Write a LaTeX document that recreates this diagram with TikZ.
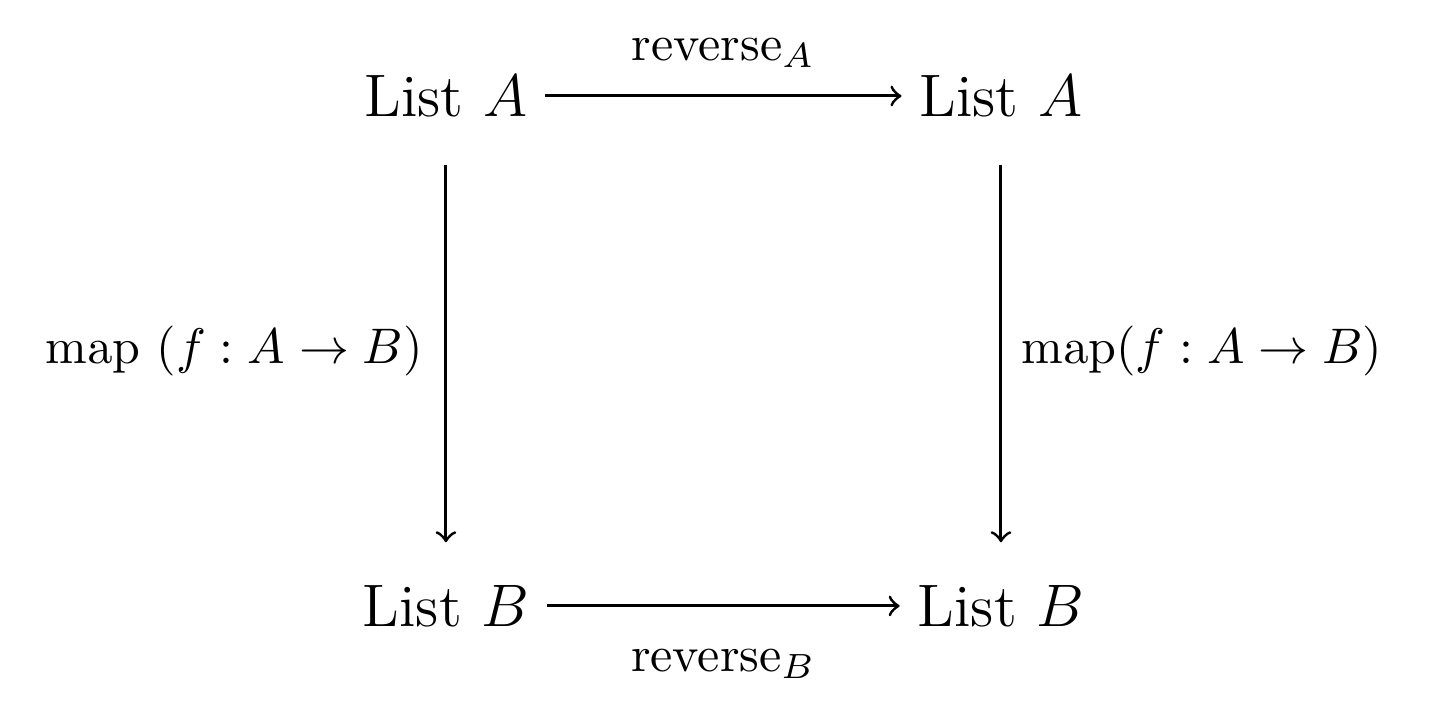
\documentclass[tikz,border=0pt]{standalone}
\usepackage{amsmath}
\usepackage{tikz}
\newcommand\lst[1]{\text{List }#1}
\newcommand\rev[1]{\text{reverse}_{#1}}

\begin{document}
\begin{tikzpicture}[semithick, obj/.style={font=\large, text height=8.2pt, text depth=0pt}]
        \useasboundingbox (0,0) rectangle (10.06,-5.005);

        \node[obj] (LA) at (3.135, -0.675) {$\lst{A}$};
        \node[obj] (LAr) at (7.037, -0.675) {$\lst{A}$};
        \node[obj] (LB) at (3.135, -4.26) {$\lst{B}$};
        \node[obj] (LBr) at (7.037, -4.26) {$\lst{B}$};

        \draw[->] (LA) -- node[above=2pt] {$\rev{A}$} (LAr);
        \draw[->] (LB) -- node[below=5pt] {$\rev{B}$} (LBr);

        \draw[->, shorten <=6pt, shorten >=5pt] (LA) -- node[left=1pt]
          {$\mathrm{map}\ (f : A \to B)$} (LB);
        \draw[->, shorten <=6pt, shorten >=5pt] (LAr) -- node[right=0.5pt]
          {$\mathrm{map}(f : A \to B)$} (LBr);
      \end{tikzpicture}
\end{document}
